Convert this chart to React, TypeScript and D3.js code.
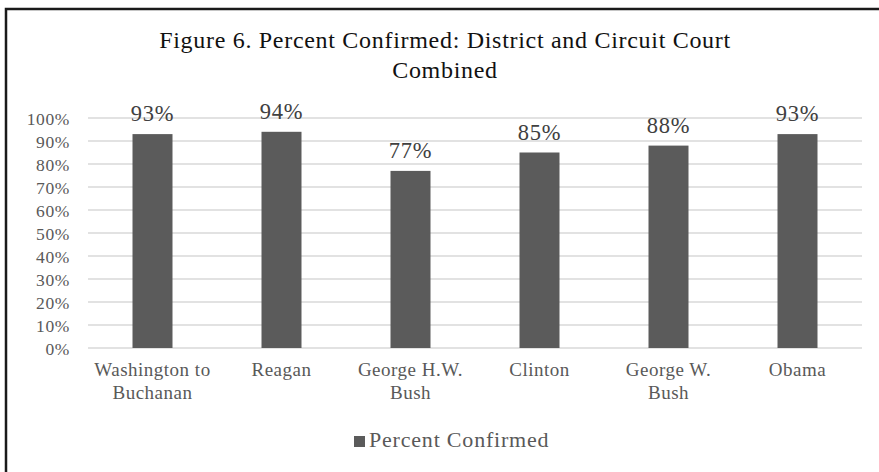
import React from "react";
import * as d3 from "d3";

// chart data
const categories = ["Washington to Buchanan", "Reagan", "George H.W. Bush", "Clinton", "George W. Bush", "Obama"];
const categoryLines = [["Washington to", "Buchanan"], ["Reagan"], ["George H.W.", "Bush"], ["Clinton"], ["George W.", "Bush"], ["Obama"]];
const percentConfirmed = [93, 94, 77, 85, 88, 93];
const yTicks = [0, 10, 20, 30, 40, 50, 60, 70, 80, 90, 100];
const titleLines = ["Figure 6. Percent Confirmed: District and Circuit Court", "Combined"];
const seriesName = "Percent Confirmed";

const width = 879;
const height = 472;
const font = "'Liberation Serif', 'Times New Roman', serif";
const barColor = "#5b5b5b";
const textGrey = "#595959";

const App: React.FC = () => {
    const margin = { top: 118, right: 17, bottom: 124, left: 88 };
    const innerWidth = width - margin.left - margin.right;
    const innerHeight = height - margin.top - margin.bottom;

    const x = d3.scaleBand<string>().domain(categories).range([0, innerWidth]).paddingInner(0.69).paddingOuter(0.345);
    const y = d3.scaleLinear().domain([0, 100]).range([innerHeight, 0]);

    return (
        <svg width={width} height={height} style={{ position: "absolute", left: 0, top: 0, background: "#fff" }}>
            {/* outer frame */}
            <path d={`M6,${height} V9 H${width}`} fill="none" stroke="#1a1a1a" strokeWidth={2.5} />

            {titleLines.map((t, i) => (
                <text key={t} x={445} y={48 + i * 30} textAnchor="middle" fontFamily={font} fontSize={24} letterSpacing={0.7} fill="#111">
                    {t}
                </text>
            ))}

            <g transform={`translate(${margin.left},${margin.top})`}>
                {/* gridlines + y labels */}
                {yTicks.map((t) => (
                    <g key={t} transform={`translate(0,${y(t)})`}>
                        <line x1={0} x2={innerWidth} stroke="#d9d9d9" strokeWidth={1.5} />
                        <text x={-18} dy="0.38em" textAnchor="end" fontFamily={font} fontSize={17.5} letterSpacing={0.6} fill={textGrey}>
                            {t}%
                        </text>
                    </g>
                ))}

                {/* bars */}
                {categories.map((c, i) => (
                    <rect
                        key={c}
                        x={x(c)}
                        y={y(percentConfirmed[i])}
                        width={x.bandwidth()}
                        height={innerHeight - y(percentConfirmed[i])}
                        fill={barColor}
                    />
                ))}

                {/* data labels */}
                {categories.map((c, i) => (
                    <text
                        key={c}
                        x={(x(c) ?? 0) + x.bandwidth() / 2}
                        y={y(percentConfirmed[i]) - 13}
                        textAnchor="middle"
                        fontFamily={font}
                        fontSize={22.5}
                        letterSpacing={0.8}
                        fill="#404040"
                    >
                        {percentConfirmed[i]}%
                    </text>
                ))}

                {/* category labels */}
                {categories.map((c, i) => (
                    <text
                        key={c}
                        x={(x(c) ?? 0) + x.bandwidth() / 2}
                        y={innerHeight + 28}
                        textAnchor="middle"
                        fontFamily={font}
                        fontSize={19}
                        letterSpacing={0.5}
                        fill={textGrey}
                    >
                        {categoryLines[i].map((l, j) => (
                            <tspan key={l} x={(x(c) ?? 0) + x.bandwidth() / 2} dy={j === 0 ? 0 : 23}>
                                {l}
                            </tspan>
                        ))}
                    </text>
                ))}
            </g>

            {/* legend */}
            <rect x={354} y={436} width={11} height={11} fill={barColor} />
            <text x={369} y={447} fontFamily={font} fontSize={22} letterSpacing={0.8} fill={textGrey}>
                {seriesName}
            </text>
        </svg>
    );
};

export default App;
